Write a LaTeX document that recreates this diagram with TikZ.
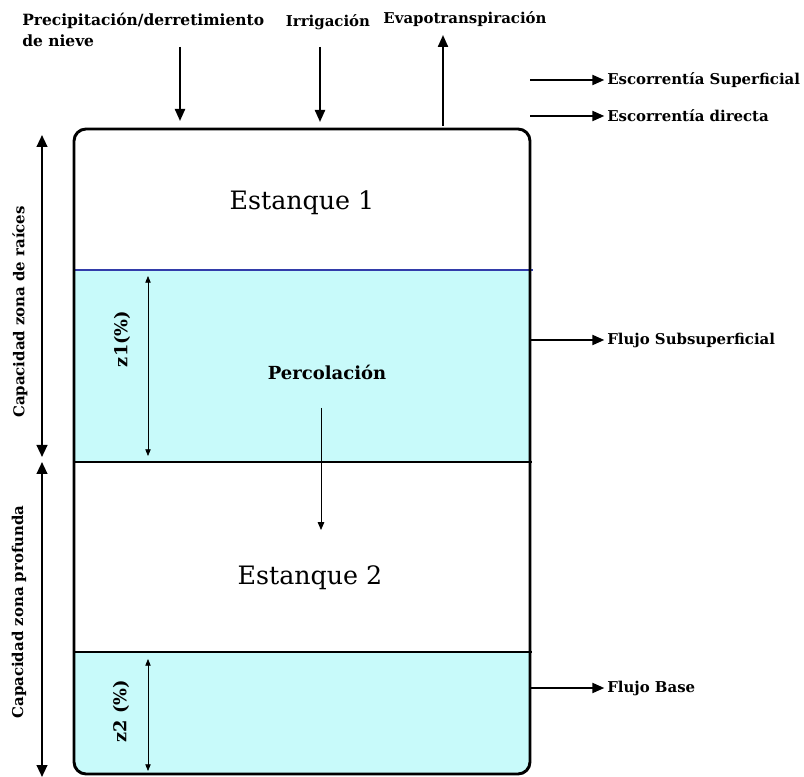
\documentclass[tikz,border=0pt]{standalone}
\usepackage{fontspec}
\setmainfont{DejaVu Serif}
\usepackage{tikz}
\usetikzlibrary{arrows.meta}
\definecolor{agua}{RGB}{200,250,250}
\definecolor{nivel}{RGB}{50,60,170}
\tikzset{
  flecha/.style={line width=1.6pt, -{Triangle[length=9pt,width=7.5pt]}},
  dflecha/.style={line width=1.6pt, {Triangle[length=9pt,width=8pt]}-{Triangle[length=9pt,width=8pt]}},
  zflecha/.style={line width=0.6pt, {Triangle[length=5pt,width=4pt]}-{Triangle[length=5pt,width=4pt]}},
  etiqueta/.style={font=\bfseries\fontsize{11.2}{13}\selectfont, inner sep=0pt},
  estanque/.style={font=\fontsize{19}{23}\selectfont, inner sep=0pt},
}

\begin{document}
\begin{tikzpicture}[x=0.75pt, y=-0.75pt]
    \useasboundingbox (0,0) rectangle (804,777);

    % capas con agua
    \begin{scope}
        \clip[rounded corners=9pt] (74,129) rectangle (530,774);
        \fill[agua] (74,270) rectangle (530,462);
        \fill[agua] (74,652) rectangle (530,774);
    \end{scope}
    \draw[nivel, line width=1pt] (74,270) -- (533,270);
    \draw[line width=1.5pt] (74,462) -- (532,462);
    \draw[line width=1.5pt] (74,652) -- (532,652);
    \draw[line width=2.2pt, rounded corners=9pt] (74,129) rectangle (530,774);

    \node [estanque] (e1) at (302,203) {Estanque 1};
    \node [estanque] (e2) at (310,578) {Estanque 2};

    % entradas y salidas arriba
    \node [etiqueta, font=\bfseries\fontsize{11.6}{16}\selectfont, anchor=north west, align=left] (prec) at (22,13) {Precipitación/derretimiento\\de nieve};
    \node [etiqueta] (irr) at (328,22) {Irrigación};
    \node [etiqueta] (evap) at (465,19) {Evapotranspiración};
    \coordinate (prec-a) at (180,47);
    \coordinate (prec-b) at (180,121);
    \coordinate (irr-a) at (320,47);
    \coordinate (irr-b) at (320,122);
    \coordinate (evap-a) at (443,126);
    \coordinate (evap-b) at (443,35);
    \draw [flecha] (prec-a) -- (prec-b);
    \draw [flecha] (irr-a) -- (irr-b);
    \draw [flecha] (evap-a) -- (evap-b);

    % salidas a la derecha
    \node [etiqueta, anchor=west] (esup) at (607,80) {Escorrentía Superficial};
    \node [etiqueta, anchor=west] (edir) at (607,116) {Escorrentía directa};
    \node [etiqueta, anchor=west] (fsub) at (607,340) {Flujo Subsuperficial};
    \node [etiqueta, anchor=west] (fbase) at (607,688) {Flujo Base};
    \coordinate (esup-a) at (530,80);
    \coordinate (edir-a) at (530,116);
    \coordinate (fsub-a) at (531,340);
    \coordinate (fbase-a) at (531,688);
    \draw [flecha] (esup-a) -- ([xshift=-2pt]esup.west);
    \draw [flecha] (edir-a) -- ([xshift=-2pt]edir.west);
    \draw [flecha] (fsub-a) -- ([xshift=-2pt]fsub.west);
    \draw [flecha] (fbase-a) -- ([xshift=-2pt]fbase.west);

    % capacidades
    \coordinate (cr-a) at (42,135);
    \coordinate (cr-b) at (42,457);
    \coordinate (cp-a) at (42,462);
    \coordinate (cp-b) at (42,777);
    \draw [dflecha] (cr-a) -- (cr-b);
    \draw [dflecha] (cp-a) -- (cp-b);
    \node [etiqueta, rotate=90] (cr) at (20,312) {Capacidad zona de raíces};
    \node [etiqueta, rotate=90] (cp) at (19,612) {Capacidad zona profunda};

    % porcentajes
    \coordinate (z1-a) at (148,276);
    \coordinate (z1-b) at (148,456);
    \coordinate (z2-a) at (148,659);
    \coordinate (z2-b) at (148,771);
    \draw [zflecha] (z1-a) -- (z1-b);
    \draw [zflecha] (z2-a) -- (z2-b);
    \node [etiqueta, rotate=90, font=\bfseries\fontsize{13.3}{15}\selectfont] (z1) at (122,339) {z1(\%)};
    \node [etiqueta, rotate=90, font=\bfseries\fontsize{13.3}{15}\selectfont] (z2) at (121,711) {z2 (\%)};

    % percolacion
    \node [etiqueta, font=\bfseries\fontsize{13.5}{15}\selectfont] (perc) at (327,372) {Percolación};
    \coordinate (perc-a) at (321,408);
    \coordinate (perc-b) at (321,530);
    \draw [line width=0.6pt, -{Triangle[length=6pt,width=5pt]}] (perc-a) -- (perc-b);
\end{tikzpicture}
\end{document}
